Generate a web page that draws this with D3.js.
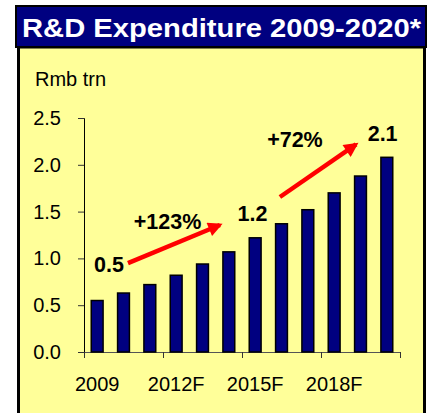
<!DOCTYPE html>
<html>
<head>
<meta charset="utf-8">
<script src="https://cdn.jsdelivr.net/npm/d3@7"></script>
<style>
  body { margin: 0; background: #fff; }
  text { font-family: "Liberation Sans", Arial, sans-serif; }
</style>
</head>
<body>
<div id="chart"></div>
<script>
// chart data
var years = ["2009", "2010", "2011", "2012F", "2013F", "2014F", "2015F", "2016F", "2017F", "2018F", "2019F", "2020F"];
var spend = [0.55, 0.63, 0.72, 0.82, 0.94, 1.07, 1.22, 1.37, 1.52, 1.70, 1.88, 2.08];
var yTicks = [0, 0.5, 1.0, 1.5, 2.0, 2.5];
var xLabelYears = ["2009", "2012F", "2015F", "2018F"];

// annotations, in category-index / value units
var valueNotes = [
  { text: "0.5", at: 0.95, v: 0.85 },
  { text: "1.2", at: 6.4, v: 1.40 },
  { text: "2.1", at: 11.34, v: 2.25 }
];
var growthNotes = [
  { text: "+123%", at: 3.17, v: 1.31 },
  { text: "+72%", at: 8.01, v: 2.19 }
];
var arrows = [
  { from: [1.67, 0.95], to: [5.39, 1.40] },
  { from: [7.44, 1.656], to: [10.56, 2.26] }
];

var svgWidth = 434;
var svgHeight = 413;

var margin = { top: 118, left: 84, right: 34, bottom: 61 };
var width = svgWidth - margin.left - margin.right;
var height = svgHeight - margin.top - margin.bottom;

var svg = d3.select("#chart")
  .append("svg")
  .attr("width", svgWidth)
  .attr("height", svgHeight);

// yellow panel
svg.append("rect")
  .attr("x", 18.5)
  .attr("y", 47)
  .attr("width", 406)
  .attr("height", 380)
  .attr("fill", "#ffff99")
  .attr("stroke", "#000")
  .attr("stroke-width", 3);

// title bar
svg.append("rect")
  .attr("x", 16)
  .attr("y", 6)
  .attr("width", 410)
  .attr("height", 41)
  .attr("fill", "#000080")
  .attr("stroke", "#000")
  .attr("stroke-width", 2);

svg.append("text")
  .attr("x", 22)
  .attr("y", 37)
  .attr("fill", "#fff")
  .attr("font-size", "26px")
  .attr("font-weight", "bold")
  .attr("textLength", 399)
  .attr("lengthAdjust", "spacingAndGlyphs")
  .text("R&D Expenditure 2009-2020*");

svg.append("text")
  .attr("x", 35)
  .attr("y", 86)
  .attr("font-size", "20px")
  .attr("fill", "#000")
  .text("Rmb trn");

var chartGroup = svg.append("g")
  .attr("transform", `translate(${margin.left}, ${margin.top})`);

var xBandScale = d3.scaleBand()
  .domain(years)
  .range([0, width])
  .paddingInner(0.55)
  .paddingOuter(0.275);

var xIndex = d3.scaleLinear()
  .domain([0, years.length])
  .range([0, width]);

var yLinearScale = d3.scaleLinear()
  .domain([0, 2.5])
  .range([height, 0]);

// y axis
var yAxis = d3.axisLeft(yLinearScale)
  .tickValues(yTicks)
  .tickFormat(d3.format(".1f"))
  .tickSize(6)
  .tickPadding(17);

var yAxisG = chartGroup.append("g").call(yAxis);
yAxisG.select(".domain").attr("stroke", "#000");
yAxisG.selectAll(".tick line").attr("stroke", "#333");
yAxisG.selectAll("text")
  .attr("font-size", "20px")
  .attr("font-family", "Liberation Sans, Arial, sans-serif")
  .attr("fill", "#000");

// x axis: ticks at every third band boundary, labels at band centres
var boundaryIdx = [0, 3, 6, 9, 12];
var xAxis = d3.axisBottom(xIndex)
  .tickValues(boundaryIdx)
  .tickSize(6)
  .tickFormat("");

var xAxisG = chartGroup.append("g")
  .attr("transform", `translate(0, ${height})`)
  .call(xAxis);
xAxisG.select(".domain").attr("stroke", "#555");
xAxisG.selectAll(".tick line").attr("stroke", "#333");

chartGroup.selectAll(".xlab")
  .data(xLabelYears)
  .enter()
  .append("text")
  .attr("class", "xlab")
  .attr("x", d => xBandScale(d) + xBandScale.bandwidth() / 2)
  .attr("y", height + 39)
  .attr("text-anchor", "middle")
  .attr("font-size", "20px")
  .attr("fill", "#000")
  .text(d => d);

// bars
chartGroup.selectAll(".bar")
  .data(spend)
  .enter()
  .append("rect")
  .attr("class", "bar")
  .attr("x", (d, i) => xBandScale(years[i]))
  .attr("y", d => yLinearScale(d))
  .attr("width", xBandScale.bandwidth())
  .attr("height", d => height - yLinearScale(d))
  .attr("fill", "#000080")
  .attr("stroke", "#000")
  .attr("stroke-width", 1.5);

// arrows
svg.append("defs").append("marker")
  .attr("id", "head")
  .attr("viewBox", "0 0 10 10")
  .attr("refX", 8)
  .attr("refY", 5)
  .attr("markerWidth", 3.4)
  .attr("markerHeight", 3.2)
  .attr("markerUnits", "strokeWidth")
  .attr("orient", "auto")
  .append("path")
  .attr("d", "M0,0 L10,5 L0,10 Z")
  .attr("fill", "#ff0000");

chartGroup.selectAll(".arrow")
  .data(arrows)
  .enter()
  .append("line")
  .attr("class", "arrow")
  .attr("x1", d => xIndex(d.from[0]))
  .attr("y1", d => yLinearScale(d.from[1]))
  .attr("x2", d => xIndex(d.to[0]) - 6)
  .attr("y2", d => yLinearScale(d.to[1]) + 4)
  .attr("stroke", "#ff0000")
  .attr("stroke-width", 4.5)
  .attr("marker-end", "url(#head)");

// annotation text
chartGroup.selectAll(".note")
  .data(valueNotes.concat(growthNotes))
  .enter()
  .append("text")
  .attr("class", "note")
  .attr("x", d => xIndex(d.at))
  .attr("y", d => yLinearScale(d.v))
  .attr("text-anchor", "middle")
  .attr("font-size", "21.5px")
  .attr("font-weight", "bold")
  .attr("fill", "#000")
  .text(d => d.text);
</script>
</body>
</html>
